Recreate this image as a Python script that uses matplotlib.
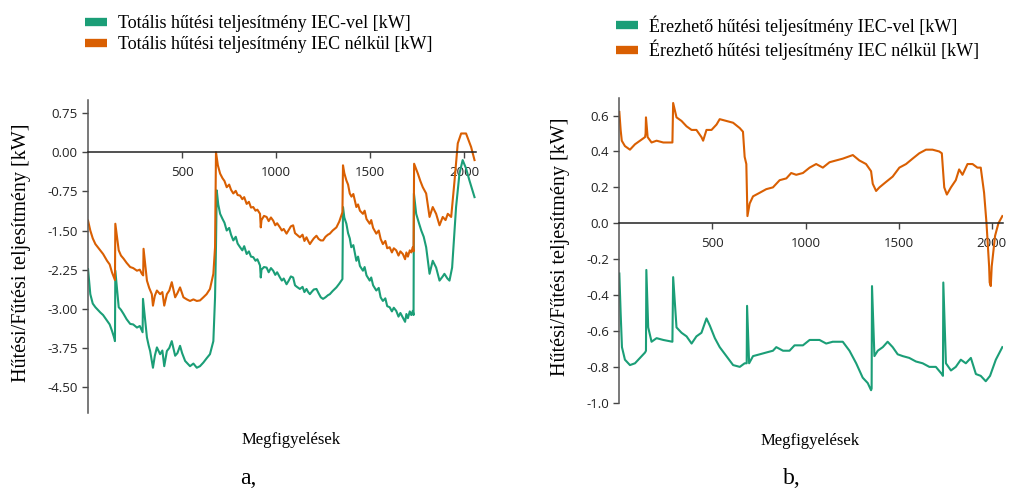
import matplotlib.pyplot as plt
from matplotlib.lines import Line2D

plt.rcParams['font.family'] = 'Liberation Serif'

green = '#1b9e77'
orange = '#d95f02'

# a, - total cooling power
tot_iec_x = [0, 12, 25, 39, 52, 65, 80, 101, 115, 127, 141, 143, 145, 163, 175, 189, 205, 224, 240, 260, 275, 286, 290, 292,
             313, 322, 330, 345, 355, 366, 383, 395, 405, 419, 432, 445, 463, 475, 489, 500, 516, 542, 560, 578, 595, 613,
             630, 648, 666, 675, 680, 684, 692, 702, 715, 725, 737, 750, 760, 772, 785, 795, 808, 820, 830, 843, 855, 866,
             878, 890, 900, 914, 918, 922, 935, 949, 960, 972, 984, 995, 1005, 1020, 1030, 1040, 1055, 1065, 1078, 1090,
             1100, 1110, 1126, 1140, 1150, 1161, 1170, 1179, 1190, 1200, 1214, 1225, 1237, 1249, 1262, 1275, 1285, 1300,
             1320, 1335, 1352, 1355, 1362, 1373, 1382, 1391, 1399, 1410, 1426, 1435, 1445, 1461, 1470, 1480, 1497, 1505,
             1515, 1532, 1545, 1555, 1567, 1580, 1590, 1603, 1615, 1625, 1638, 1650, 1660, 1673, 1685, 1692, 1700, 1710,
             1718, 1726, 1730, 1732, 1744, 1758, 1771, 1784, 1797, 1815, 1832, 1850, 1868, 1885, 1894, 1910, 1921, 1935,
             1946, 1956, 1974, 1991, 2009, 2027, 2054]
tot_iec_y = [-2.24, -2.72, -2.90, -2.97, -3.02, -3.07, -3.12, -3.23, -3.30, -3.42, -3.58, -3.62, -2.27, -2.97, -3.02, -3.10, -3.20, -3.29, -3.30, -3.36, -3.33, -3.42, -3.45, -2.81,
             -3.55, -3.70, -3.81, -4.13, -3.90, -3.74, -3.87, -3.80, -4.10, -3.81, -3.75, -3.62, -3.90, -3.85, -3.71, -3.85, -4.00, -4.10, -4.05, -4.13, -4.10, -4.03,
             -3.95, -3.87, -3.62, -2.78, -1.80, -0.73, -1.00, -1.18, -1.28, -1.35, -1.50, -1.45, -1.58, -1.69, -1.62, -1.75, -1.82, -1.88, -1.80, -1.95, -1.90, -2.00,
             -2.01, -2.08, -2.05, -2.17, -2.40, -2.25, -2.20, -2.21, -2.30, -2.22, -2.27, -2.35, -2.30, -2.40, -2.46, -2.42, -2.53, -2.47, -2.38, -2.40,
             -2.55, -2.58, -2.62, -2.58, -2.68, -2.62, -2.68, -2.72, -2.67, -2.63, -2.62, -2.70, -2.78, -2.81, -2.78, -2.74, -2.72, -2.66,
             -2.59, -2.52, -2.43, -1.05, -1.25, -1.37, -1.55, -1.65, -1.82, -1.78, -2.08, -2.00, -2.18, -2.27, -2.20, -2.36, -2.46, -2.40,
             -2.55, -2.65, -2.60, -2.78, -2.85, -2.80, -2.95, -2.97, -3.05, -2.98, -3.04, -3.15, -3.08, -3.17, -3.25, -3.10, -3.18, -3.05,
             -3.12, -3.04, -3.12, -0.79, -1.18, -1.35, -1.50, -1.62, -1.82, -2.33, -2.08, -2.21, -2.46, -2.38, -2.33, -2.42, -2.46, -2.21,
             -1.60, -1.05, -0.41, -0.15, -0.31, -0.54, -0.86]

tot_no_x = [0, 12, 25, 39, 52, 65, 80, 101, 115, 127, 141, 143, 145, 163, 175, 189, 205, 224, 240, 260, 275, 286, 293, 295,
            313, 325, 339, 345, 355, 366, 383, 395, 405, 419, 432, 445, 463, 475, 489, 507, 525, 542, 560, 578, 595, 613,
            630, 648, 666, 675, 680, 690, 702, 715, 725, 737, 750, 760, 772, 785, 795, 808, 820, 830, 843, 855, 866,
            878, 890, 900, 914, 918, 922, 935, 949, 960, 972, 984, 995, 1005, 1020, 1030, 1040, 1055, 1065, 1078, 1090,
            1100, 1110, 1126, 1140, 1150, 1161, 1170, 1179, 1190, 1200, 1214, 1225, 1237, 1249, 1262, 1275, 1285, 1300,
            1320, 1335, 1346, 1352, 1355, 1362, 1373, 1382, 1391, 1400, 1410, 1426, 1435, 1445, 1461, 1470, 1480, 1497, 1505,
            1515, 1532, 1545, 1555, 1567, 1580, 1590, 1603, 1615, 1625, 1638, 1650, 1660, 1673, 1685, 1692, 1700, 1710,
            1718, 1726, 1730, 1733, 1753, 1766, 1779, 1797, 1815, 1832, 1850, 1868, 1885, 1900, 1912, 1930, 1948, 1965,
            1983, 2009, 2036, 2054]
tot_no_y = [-1.31, -1.50, -1.65, -1.76, -1.82, -1.88, -1.95, -2.08, -2.15, -2.30, -2.43, -2.45, -1.37, -1.88, -1.98, -2.04, -2.12, -2.20, -2.22, -2.27, -2.25, -2.33, -2.36, -1.85,
            -2.46, -2.60, -2.72, -2.94, -2.75, -2.65, -2.72, -2.68, -2.94, -2.72, -2.65, -2.49, -2.78, -2.70, -2.59, -2.78, -2.82, -2.85, -2.82, -2.85, -2.84, -2.78,
            -2.72, -2.62, -2.33, -1.82, 0.00, -0.25, -0.41, -0.50, -0.55, -0.67, -0.62, -0.72, -0.79, -0.74, -0.82, -0.83, -0.90, -0.86, -0.99, -0.95, -1.06,
            -1.05, -1.12, -1.10, -1.18, -1.44, -1.30, -1.22, -1.24, -1.32, -1.25, -1.31, -1.40, -1.36, -1.44, -1.50, -1.47, -1.56, -1.50, -1.42, -1.40,
            -1.55, -1.58, -1.63, -1.58, -1.70, -1.63, -1.70, -1.76, -1.70, -1.65, -1.60, -1.66, -1.69, -1.69, -1.62, -1.58, -1.56, -1.50,
            -1.44, -1.33, -1.21, -1.15, -0.25, -0.40, -0.54, -0.62, -0.79, -0.85, -0.80, -1.05, -1.00, -1.12, -1.18, -1.12, -1.28, -1.37, -1.30,
            -1.45, -1.56, -1.50, -1.66, -1.76, -1.70, -1.84, -1.82, -1.92, -1.84, -1.88, -1.98, -1.90, -1.95, -2.05, -1.92, -2.00, -1.88,
            -1.92, -1.82, -1.90, -0.22, -0.41, -0.55, -0.67, -0.79, -1.24, -1.05, -1.18, -1.40, -1.24, -1.30, -1.18, -1.24, -0.54, 0.17,
            0.36, 0.36, 0.10, -0.15]

# b, - sensible cooling power
sens_iec_x = [0, 7, 14, 30, 57, 84, 111, 138, 143, 145, 155, 173, 200, 236, 285, 289, 307, 334, 361, 388,
              414, 441, 468, 486, 513, 539, 575, 611, 647, 673, 684, 686, 697, 718, 754, 789, 825, 843, 879,
              914, 941, 986, 1022, 1075, 1111, 1146, 1200, 1236, 1272, 1307, 1334, 1352, 1355, 1357, 1370, 1388,
              1415, 1441, 1468, 1495, 1522, 1557, 1593, 1629, 1665, 1700, 1732, 1738, 1740, 1754, 1781, 1807,
              1834, 1861, 1888, 1915, 1941, 1968, 1991, 2022, 2057]
sens_iec_y = [-0.28, -0.50, -0.69, -0.76, -0.79, -0.78, -0.75, -0.72, -0.71, -0.26, -0.58, -0.66, -0.64, -0.65, -0.66, -0.30, -0.58, -0.61, -0.63, -0.67,
              -0.63, -0.61, -0.53, -0.57, -0.64, -0.69, -0.74, -0.79, -0.80, -0.78, -0.78, -0.46, -0.78, -0.74, -0.73, -0.72, -0.71, -0.69, -0.71,
              -0.71, -0.68, -0.68, -0.65, -0.65, -0.67, -0.66, -0.66, -0.71, -0.78, -0.86, -0.89, -0.93, -0.92, -0.35, -0.74, -0.71,
              -0.69, -0.66, -0.69, -0.73, -0.74, -0.75, -0.77, -0.78, -0.80, -0.80, -0.84, -0.85, -0.33, -0.78, -0.82, -0.80,
              -0.76, -0.78, -0.75, -0.84, -0.85, -0.88, -0.85, -0.76, -0.69]

sens_no_x = [0, 7, 13, 30, 57, 84, 111, 138, 141, 143, 152, 173, 200, 236, 285, 289, 307, 334, 361, 388,
             414, 441, 450, 468, 495, 522, 539, 575, 611, 647, 664, 673, 682, 688, 700, 718, 754, 789, 825,
             861, 897, 923, 950, 986, 1022, 1057, 1093, 1129, 1164, 1200, 1227, 1254, 1289, 1325, 1352, 1361,
             1379, 1397, 1432, 1468, 1504, 1540, 1575, 1611, 1647, 1682, 1718, 1732, 1745, 1759, 1781, 1807,
             1825, 1843, 1870, 1897, 1923, 1941, 1959, 1972, 1986, 1989, 1995, 2000, 2018, 2036, 2057]
sens_no_y = [0.62, 0.52, 0.46, 0.43, 0.41, 0.44, 0.46, 0.48, 0.50, 0.59, 0.48, 0.45, 0.46, 0.45, 0.45, 0.67, 0.59, 0.57, 0.54, 0.52,
             0.52, 0.48, 0.46, 0.52, 0.52, 0.55, 0.58, 0.57, 0.56, 0.53, 0.51, 0.37, 0.33, 0.04, 0.11, 0.15, 0.17, 0.19, 0.20,
             0.24, 0.25, 0.28, 0.27, 0.28, 0.31, 0.33, 0.31, 0.34, 0.35, 0.36, 0.37, 0.38, 0.35, 0.33, 0.29, 0.22,
             0.18, 0.20, 0.23, 0.26, 0.31, 0.33, 0.36, 0.39, 0.41, 0.41, 0.40, 0.39, 0.20, 0.16, 0.20, 0.24,
             0.30, 0.27, 0.33, 0.33, 0.31, 0.31, 0.17, 0.00, -0.24, -0.33, -0.35, -0.24, -0.07, 0.00, 0.04]

panels = [
    dict(rect=[0.087, 0.162, 0.383, 0.635], ylim=(-5.0, 1.0),
         yticks=[0.75, 0.0, -0.75, -1.5, -2.25, -3.0, -3.75, -4.5], yfmt='{:.2f}',
         series=[(tot_iec_x, tot_iec_y, green), (tot_no_x, tot_no_y, orange)],
         labels=['Totális hűtési teljesítmény IEC-vel [kW]', 'Totális hűtési teljesítmény IEC nélkül [kW]'],
         leg=(0.084, 0.969), xlab=(0.288, 0.107), tag=(0.245, 0.03), tagtext='a,', ylab_x=0.021),
    dict(rect=[0.612, 0.183, 0.379, 0.619], ylim=(-1.0, 0.7),
         yticks=[0.6, 0.4, 0.2, 0.0, -0.2, -0.4, -0.6, -0.8, -1.0], yfmt='{:.1f}',
         series=[(sens_iec_x, sens_iec_y, green), (sens_no_x, sens_no_y, orange)],
         labels=['Érezhető hűtési teljesítmény IEC-vel [kW]', 'Érezhető hűtési teljesítmény IEC nélkül [kW]'],
         leg=(0.609, 0.969), xlab=(0.8, 0.105), tag=(0.782, 0.03), tagtext='b,', ylab_x=0.554),
]

fig = plt.figure(figsize=(10.12, 4.93), dpi=100)

for p in panels:
    ax = fig.add_axes(p['rect'])
    for x, y, c in p['series']:
        ax.plot(x, y, color=c, lw=1.5)
    ax.set_xlim(0, 2060)
    ax.set_ylim(*p['ylim'])
    ax.spines['top'].set_visible(False)
    ax.spines['right'].set_visible(False)
    ax.spines['bottom'].set_position(('data', 0))
    ax.spines['bottom'].set_color('#222222')
    ax.spines['left'].set_color('#555555')
    ax.spines['bottom'].set_linewidth(1.1)
    ax.spines['left'].set_linewidth(1.1)
    ax.set_xticks([500, 1000, 1500, 2000])
    ax.set_yticks(p['yticks'])
    ax.set_yticklabels([p['yfmt'].format(v) for v in p['yticks']])
    ax.tick_params(axis='both', labelsize=9.5, colors='#444444', labelcolor='#222222', length=4, width=1)
    for lab in ax.get_xticklabels() + ax.get_yticklabels():
        lab.set_fontfamily('Open Sans')
    ax.tick_params(axis='x', pad=6)
    ax.patch.set_alpha(0)

    fig.text(p['ylab_x'], p['rect'][1] + p['rect'][3] / 2 + 0.008, 'Hűtési/Fűtési teljesítmény [kW]',
             rotation=90, ha='center', va='center', fontsize=14.5)
    fig.text(p['xlab'][0], p['xlab'][1], 'Megfigyelések', ha='center', va='center', fontsize=12)
    fig.text(p['tag'][0], p['tag'][1], p['tagtext'], ha='center', va='center', fontsize=17)

    handles = [Line2D([], [], color=c, lw=6, solid_capstyle='butt') for _, _, c in p['series']]
    fig.legend(handles, p['labels'], loc='upper left', bbox_to_anchor=p['leg'], frameon=False,
               fontsize=13, borderpad=0, borderaxespad=0, handlelength=1.2, handletextpad=0.6,
               labelspacing=0.2)

fig.savefig('out.png', dpi=100)
